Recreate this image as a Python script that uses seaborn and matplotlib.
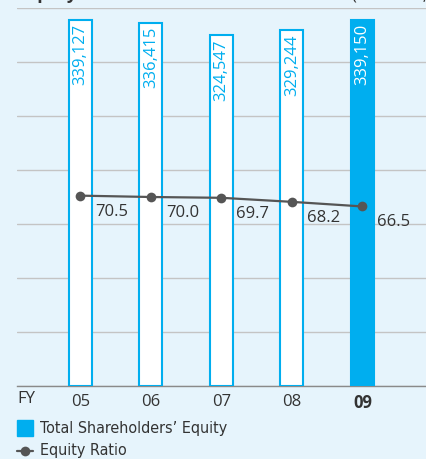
import matplotlib
matplotlib.use("Agg")
import matplotlib.pyplot as plt
from matplotlib.patches import Rectangle
from matplotlib.lines import Line2D
import seaborn as sns
import pandas as pd

# data
years = ["05", "06", "07", "08", "09"]
equity = [339127, 336415, 324547, 329244, 339150]      # ¥ million
equity_ratio = [70.5, 70.0, 69.7, 68.2, 66.5]           # %

BLUE = "#00aeef"
DARK = "#555555"
TXT = "#333333"
BG = "#e6f4fc"

sns.set_theme(style="white")
plt.rcParams["font.family"] = ["Open Sans", "DejaVu Sans"]

W, H = 427, 459
fig = plt.figure(figsize=(W / 100, H / 100), dpi=100, facecolor=BG)
ax = fig.add_axes([17 / W, 1 - 386 / H, 410 / W, 378 / H])
ax.set_facecolor(BG)

df = pd.DataFrame({"year": years, "equity": equity, "ratio": equity_ratio})

# bars
sns.barplot(data=df, x="year", y="equity", ax=ax, width=0.326,
            color="white", edgecolor=BLUE, linewidth=1.5, zorder=3)
for i, p in enumerate(ax.patches):
    if i == len(years) - 1:
        p.set_facecolor(BLUE)
    # value inside bar, rotated
    ax.text(p.get_x() + p.get_width() / 2, p.get_height() - 3500,
            f"{equity[i]:,}", rotation=90, ha="center", va="top",
            fontsize=12, color="white" if i == len(years) - 1 else BLUE,
            zorder=5)

ax.set_xlim(-0.90, 4.915)
ax.set_ylim(0, 350000)
ax.set_yticks(range(0, 350001, 50000))
ax.yaxis.grid(True, color="#c4c4c4", linewidth=1.0, zorder=0)
ax.set_yticklabels([])
ax.tick_params(axis="y", length=0)
for s in ["left", "right", "top"]:
    ax.spines[s].set_visible(False)
ax.spines["bottom"].set_color("#8a8a8a")
ax.spines["bottom"].set_linewidth(1.0)
ax.set_xlabel("")
ax.set_ylabel("")

# x tick labels
ax.set_xticks(range(len(years)))
ax.set_xticklabels(years, fontsize=12, color=TXT)
ax.get_xticklabels()[-1].set_fontweight("bold")
ax.tick_params(axis="x", length=0, pad=6)
fig.text(17 / W, 1 - 399 / H, "FY", fontsize=12, color=TXT,
         ha="left", va="center")

# equity ratio line on secondary axis
ax2 = ax.twinx()
sns.lineplot(x=list(range(len(years))), y=equity_ratio, ax=ax2, color=DARK,
             linewidth=1.6, marker="o", markersize=7, markeredgewidth=0,
             zorder=6)
ax2.set_ylim(0, 140)
ax2.set_xlim(-0.90, 4.915)
ax2.axis("off")
for i, v in enumerate(equity_ratio):
    ax2.annotate(f"{v:.1f}", (i, v), xytext=(15, -16), textcoords="offset pixels",
                 ha="left", va="center", fontsize=12, color=TXT)

# legend (drawn by hand to sit under the axis like the reference)
fig.add_artist(Rectangle((17 / W, 1 - 436 / H), 16 / W, 16 / H,
                         transform=fig.transFigure, color=BLUE))
fig.text(40 / W, 1 - 428 / H, "Total Shareholders\u2019 Equity", fontsize=11.5,
         family="DejaVu Sans", fontstretch="condensed",
         color=TXT, ha="left", va="center")
fig.add_artist(Line2D([17 / W, 33 / W], [1 - 451 / H] * 2, transform=fig.transFigure,
                      color=DARK, linewidth=1.6))
fig.add_artist(Line2D([25 / W], [1 - 451 / H], transform=fig.transFigure,
                      color=DARK, marker="o", markersize=7, markeredgewidth=0))
fig.text(40 / W, 1 - 451 / H, "Equity Ratio", fontsize=11.5,
         family="DejaVu Sans", fontstretch="condensed",
         color=TXT, ha="left", va="center")

# title row, cut off at the top edge of the picture
fig.text(23 / W, 1 + 1 / H, "Equity", fontsize=12.5, fontweight="bold",
         color=TXT, ha="left", va="baseline")
fig.text(352 / W, 1 + 1 / H, "(\u00a5 Million, %)", fontsize=12,
         color=TXT, ha="left", va="baseline")

fig.savefig("out.png", dpi=100, facecolor=BG)
